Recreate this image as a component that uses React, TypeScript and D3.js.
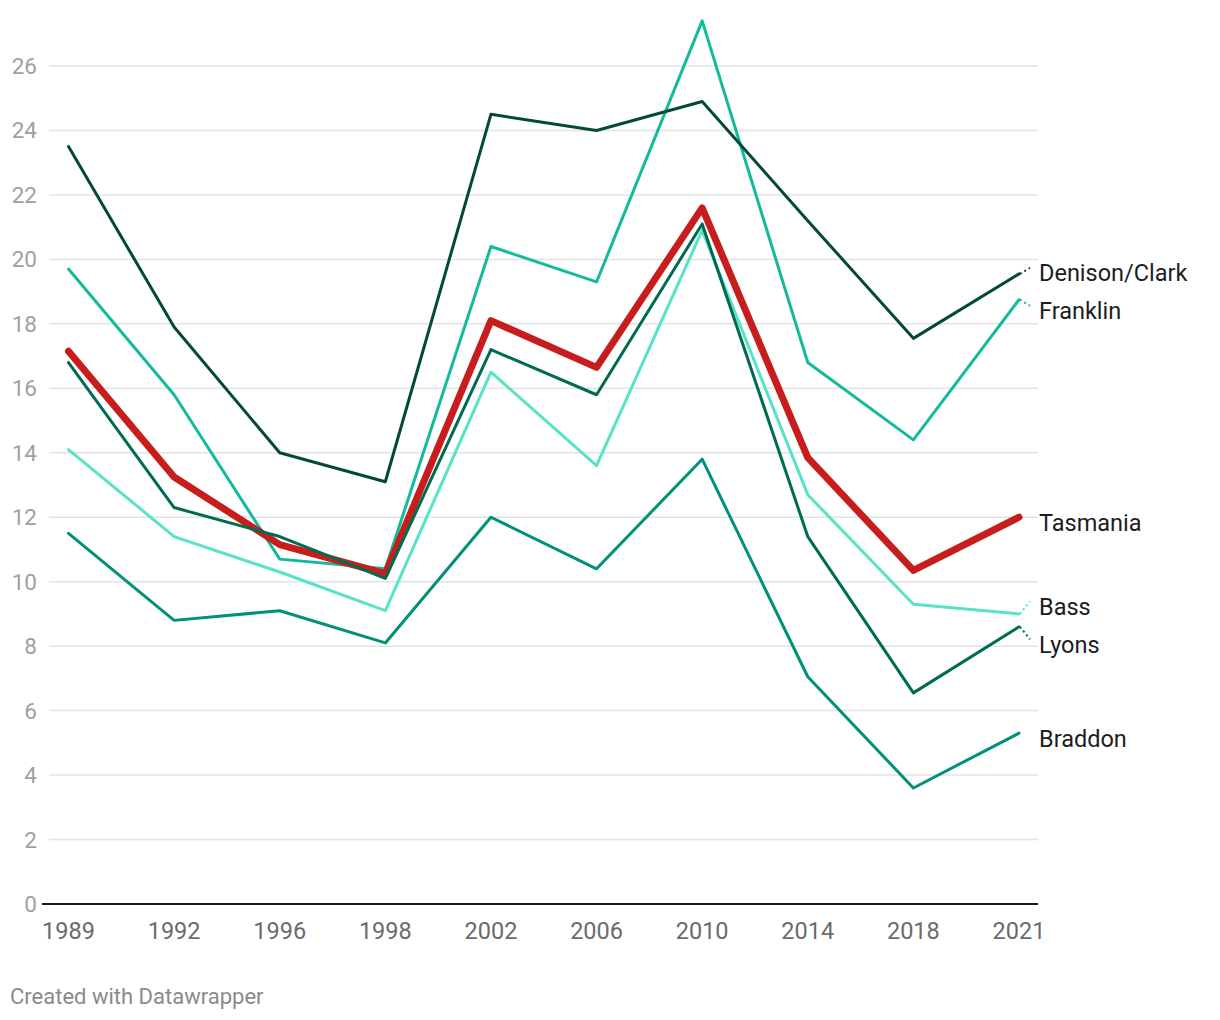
import React from "react";
import * as d3 from "d3";

const years = ["1989", "1992", "1996", "1998", "2002", "2006", "2010", "2014", "2018", "2021"];
const denisonClark = [23.5, 17.9, 14.0, 13.1, 24.5, 24.0, 24.9, 21.2, 17.55, 19.55];
const franklin = [19.7, 15.8, 10.7, 10.4, 20.4, 19.3, 27.4, 16.8, 14.4, 18.75];
const tasmania = [17.15, 13.25, 11.15, 10.25, 18.1, 16.65, 21.6, 13.85, 10.35, 12.0];
const lyons = [16.8, 12.3, 11.4, 10.1, 17.2, 15.8, 21.1, 11.4, 6.55, 8.6];
const bass = [14.1, 11.4, 10.3, 9.1, 16.5, 13.6, 20.9, 12.7, 9.3, 9.0];
const braddon = [11.5, 8.8, 9.1, 8.1, 12.0, 10.4, 13.8, 7.05, 3.6, 5.3];
const yTicks = [0, 2, 4, 6, 8, 10, 12, 14, 16, 18, 20, 22, 24, 26];

const series = [
  { name: "Braddon", values: braddon, color: "#009179", width: 3 },
  { name: "Bass", values: bass, color: "#58e3c6", width: 3 },
  { name: "Franklin", values: franklin, color: "#13bb9c", width: 3 },
  { name: "Denison/Clark", values: denisonClark, color: "#034a34", width: 3 },
  { name: "Tasmania", values: tasmania, color: "#c71e1d", width: 7 },
  { name: "Lyons", values: lyons, color: "#006b53", width: 3 },
];

const W = 1220;
const H = 1020;
const FONT = "Roboto, 'Noto Sans', sans-serif";

export default function App() {
  const x = d3.scalePoint<string>().domain(years).range([68.5, 1019]);
  const y = d3.scaleLinear().domain([0, 26]).range([904, 66]);
  const line = d3
    .line<number>()
    .x((_, i) => x(years[i]) as number)
    .y((d) => y(d));

  // label placement with simple relaxation
  const minGap = 38;
  const labels = series
    .map((s) => ({ ...s, endY: y(s.values[s.values.length - 1]), pos: y(s.values[s.values.length - 1]) }))
    .sort((a, b) => a.endY - b.endY);
  for (let iter = 0; iter < 200; iter++) {
    let moved = false;
    for (let i = 0; i < labels.length - 1; i++) {
      const a = labels[i];
      const b = labels[i + 1];
      const gap = b.pos - a.pos;
      if (gap < minGap) {
        const d = (minGap - gap) / 2;
        a.pos -= d;
        b.pos += d;
        moved = true;
      }
    }
    if (!moved) break;
  }

  const xEnd = x(years[years.length - 1]) as number;

  return (
    <svg
      width={W}
      height={H}
      style={{ position: "absolute", left: 0, top: 0, background: "#fff" }}
      fontFamily={FONT}
    >
      {yTicks.map((t) => (
        <g key={t}>
          {t !== 0 && (
            <line x1={49} x2={1038} y1={y(t)} y2={y(t)} stroke="#e3e3e3" strokeWidth={1.5} />
          )}
          <text x={37} y={y(t) + 8} textAnchor="end" fontSize={22.5} fill="#a0a0a0">
            {t}
          </text>
        </g>
      ))}
      {years.map((yr) => (
        <text key={yr} x={x(yr)} y={939} textAnchor="middle" fontSize={23.5} fill="#6b6b6b">
          {yr}
        </text>
      ))}
      {series.map((s) => (
        <path
          key={s.name}
          d={line(s.values) || ""}
          fill="none"
          stroke={s.color}
          strokeWidth={s.width}
          strokeLinejoin="round"
          strokeLinecap="round"
        />
      ))}
      <line x1={42} x2={1038} y1={904} y2={904} stroke="#1a1a1a" strokeWidth={2} />
      {labels.map((l) => (
        <g key={l.name}>
          {Math.abs(l.pos - l.endY) > 2 && (
            <line
              x1={xEnd + 1}
              y1={l.endY}
              x2={xEnd + 11}
              y2={l.pos}
              stroke={l.color}
              strokeWidth={2}
              strokeDasharray="2,3"
            />
          )}
          <text x={1039} y={l.pos + 13.5} fontSize={23.5} fill="#1d1d1d">
            {l.name}
          </text>
        </g>
      ))}
      <text x={10} y={1004} fontSize={22} fill="#8a8a8a">
        Created with Datawrapper
      </text>
    </svg>
  );
}
